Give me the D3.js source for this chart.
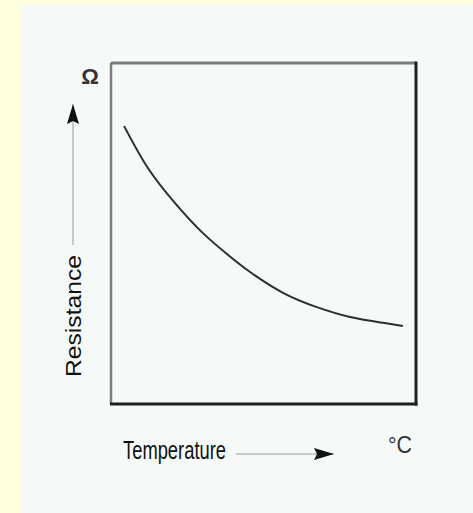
<!DOCTYPE html>
<html>
<head>
<meta charset="utf-8">
<script src="https://cdn.jsdelivr.net/npm/d3@7"></script>
<style>
  body { margin: 0; background: #ffffdd; }
  svg { display: block; }
</style>
</head>
<body>
<div class="chart"></div>
<script>
// relative temperature / resistance (no scale given on the figure)
const temperature = [4.3, 12.1, 21, 29.8, 38.4, 45.6, 56.4, 67.5, 78.4, 89.2, 95.7];
const resistance  = [81.5, 69.2, 58.9, 50.4, 43.7, 38.7, 32.6, 28.4, 25.5, 23.8, 22.9];
const xLabel = "Temperature";
const yLabel = "Resistance";
const xUnit = "°C";
const yUnit = "Ω";

const width = 473, height = 513;
const box = {left: 111, top: 63, right: 416, bottom: 404};

const svg = d3.select(".chart")
  .append("svg")
    .attr("width", width)
    .attr("height", height);

// pale panel
svg.append("rect")
  .attr("x", 21).attr("y", 5)
  .attr("width", width - 21).attr("height", height - 5)
  .attr("fill", "#f5faf8");

const x = d3.scaleLinear().domain([0, 100]).range([box.left, box.right]);
const y = d3.scaleLinear().domain([0, 100]).range([box.bottom, box.top]);

const defs = svg.append("defs");
defs.append("marker")
  .attr("id", "head")
  .attr("viewBox", "0 0 20 12")
  .attr("refX", 20).attr("refY", 6)
  .attr("markerWidth", 20).attr("markerHeight", 12)
  .attr("markerUnits", "userSpaceOnUse")
  .attr("orient", "auto")
  .append("path")
    .attr("d", "M0,0 L20,6 L0,12 L3,6 Z")
    .attr("fill", "#111");

// frame: top and left grey, right and bottom dark
svg.append("line")
  .attr("x1", x(0)).attr("x2", x(100)).attr("y1", y(100)).attr("y2", y(100))
  .attr("stroke", "#7a7d7b").attr("stroke-width", 3);
svg.append("line")
  .attr("x1", x(0)).attr("x2", x(0)).attr("y1", y(100)).attr("y2", y(0))
  .attr("stroke", "#7a7d7b").attr("stroke-width", 2.5);
svg.append("line")
  .attr("x1", x(100)).attr("x2", x(100)).attr("y1", y(100) - 1.5).attr("y2", y(0) + 1.5)
  .attr("stroke", "#1c211e").attr("stroke-width", 3);
svg.append("line")
  .attr("x1", x(0) - 1).attr("x2", x(100) + 1.5).attr("y1", y(0)).attr("y2", y(0))
  .attr("stroke", "#1c211e").attr("stroke-width", 3);

// curve
const line = d3.line()
  .x((d, i) => x(temperature[i]))
  .y(d => y(d))
  .curve(d3.curveNatural);

svg.append("path")
  .datum(resistance)
  .attr("d", line)
  .attr("fill", "none")
  .attr("stroke", "#2a2e2c")
  .attr("stroke-width", 2);

const font = "'Liberation Sans Narrow', 'Arial Narrow', 'Liberation Sans', sans-serif";

// x label + arrow
svg.append("text")
  .attr("x", 123).attr("y", 459)
  .attr("font-family", font)
  .attr("font-size", 25)
  .attr("textLength", 103)
  .attr("lengthAdjust", "spacingAndGlyphs")
  .attr("fill", "#111")
  .text(xLabel);

svg.append("line")
  .attr("x1", 236).attr("x2", 334).attr("y1", 454).attr("y2", 454)
  .attr("stroke", "#b8bcba").attr("stroke-width", 1.5)
  .attr("marker-end", "url(#head)");

svg.append("text")
  .attr("x", 388).attr("y", 453)
  .attr("font-family", font)
  .attr("font-size", 23)
  .attr("textLength", 24)
  .attr("lengthAdjust", "spacingAndGlyphs")
  .attr("fill", "#333")
  .text(xUnit);

// y label + arrow
svg.append("text")
  .attr("transform", "translate(81, 316) rotate(-90)")
  .attr("text-anchor", "middle")
  .attr("font-family", font)
  .attr("font-size", 22)
  .attr("textLength", 122)
  .attr("lengthAdjust", "spacingAndGlyphs")
  .attr("fill", "#111")
  .text(yLabel);

svg.append("line")
  .attr("x1", 73).attr("x2", 73).attr("y1", 245).attr("y2", 104)
  .attr("stroke", "#b8bcba").attr("stroke-width", 1.5)
  .attr("marker-end", "url(#head)");

svg.append("text")
  .attr("x", 90).attr("y", 84)
  .attr("text-anchor", "middle")
  .attr("font-family", font)
  .attr("font-size", 22)
  .attr("font-weight", "bold")
  .attr("fill", "#333")
  .text(yUnit);
</script>
</body>
</html>
